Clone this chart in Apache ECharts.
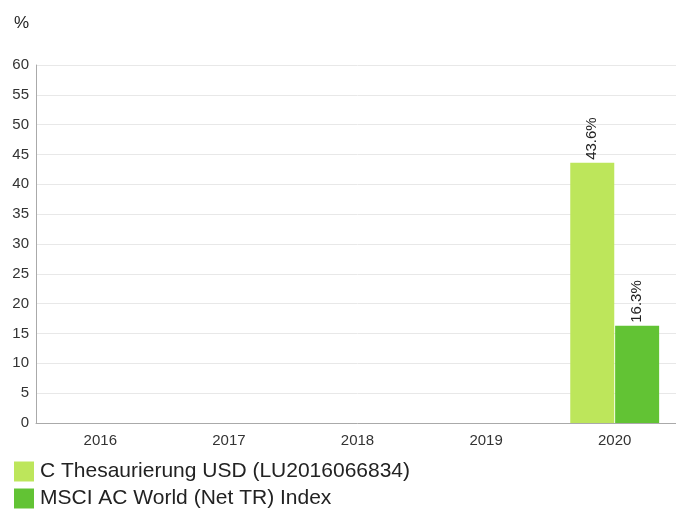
<!DOCTYPE html>
<html>
<head>
<meta charset="utf-8">
<script src="https://cdn.jsdelivr.net/npm/echarts@6/dist/echarts.min.js"></script>
<style>
  html, body { margin: 0; padding: 0; background: #fff; overflow: hidden; }
  #chart { width: 679px; height: 509px; }
</style>
</head>
<body>
<div id="chart"></div>
<script>
const years = ["2016", "2017", "2018", "2019", "2020"];
const fundName = "C Thesaurierung USD (LU2016066834)";
const indexName = "MSCI AC World (Net TR) Index";
const fundValues = [null, null, null, null, 43.6];
const indexValues = [null, null, null, null, 16.3];

const chart = echarts.init(document.getElementById("chart"));

const labelStyle = {
  show: true,
  position: "top",
  rotate: 90,
  align: "left",
  verticalAlign: "middle",
  distance: 3,
  fontSize: 15,
  color: "#222",
  formatter: p => p.value.toFixed(1) + "%"
};

var option = {
  textStyle: { fontFamily: "Liberation Sans, Arial, sans-serif" },
  animation: false,
  title: {
    text: "%",
    left: 9,
    top: 10,
    textStyle: { fontSize: 17, fontWeight: "normal", color: "#222" }
  },
  grid: { left: 36, right: 0, top: 65, bottom: 86 },
  legend: {
    orient: "vertical",
    left: 14,
    top: 461,
    padding: 0,
    itemWidth: 20,
    itemHeight: 20,
    itemGap: 6,
    icon: "rect",
    textStyle: { fontSize: 21, color: "#222", padding: [0, 0, 0, 1] },
    data: [fundName, indexName]
  },
  xAxis: {
    type: "category",
    data: years,
    axisLine: { lineStyle: { color: "#aaa" } },
    axisTick: { show: false },
    axisLabel: { fontSize: 15, color: "#333", margin: 10 }
  },
  yAxis: {
    type: "value",
    min: 0,
    max: 60,
    interval: 5,
    axisLine: { show: true, lineStyle: { color: "#aaa" } },
    axisTick: { show: false },
    axisLabel: { fontSize: 15, color: "#333", margin: 7 },
    splitLine: { lineStyle: { color: "#e8e8e8" } }
  },
  series: [
    {
      name: fundName,
      type: "bar",
      data: fundValues,
      barWidth: 44,
      barGap: "2%",
      itemStyle: { color: "#bde65b" },
      label: labelStyle
    },
    {
      name: indexName,
      type: "bar",
      data: indexValues,
      barWidth: 44,
      itemStyle: { color: "#62c334" },
      label: labelStyle
    }
  ]
};

chart.setOption(option);
</script>
</body>
</html>
